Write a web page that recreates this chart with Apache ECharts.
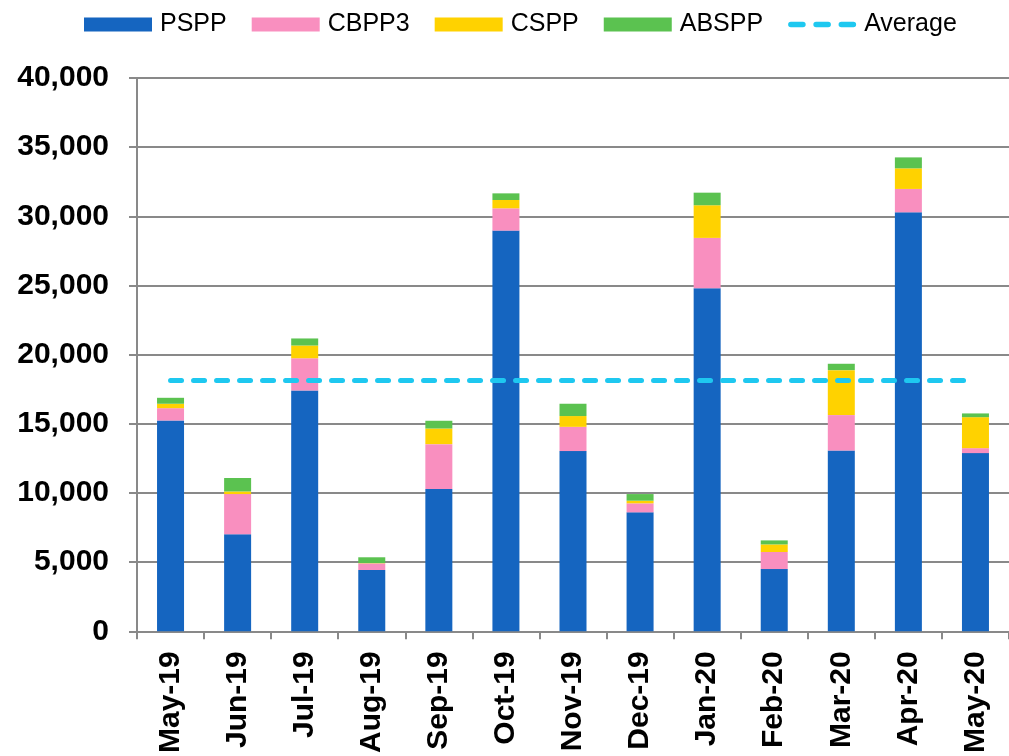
<!DOCTYPE html>
<html>
<head>
<meta charset="utf-8">
<script src="https://cdn.jsdelivr.net/npm/echarts@6/dist/echarts.min.js"></script>
<style>
  html, body { margin: 0; padding: 0; background: #fff; }
  #chart { width: 1009px; height: 756px; }
</style>
</head>
<body>
<div id="chart"></div>
<script>
const months = ['May-19', 'Jun-19', 'Jul-19', 'Aug-19', 'Sep-19', 'Oct-19', 'Nov-19',
  'Dec-19', 'Jan-20', 'Feb-20', 'Mar-20', 'Apr-20', 'May-20']
const pspp = [15240, 7010, 17410, 4430, 10280, 28970, 13030, 8600, 24800, 4500, 13070, 30290, 12880]
const cbpp3 = [890, 2910, 2330, 480, 3250, 1610, 1750, 650, 3640, 1230, 2560, 1690, 360]
const cspp = [320, 190, 920, 20, 1130, 600, 780, 190, 2360, 550, 3250, 1490, 2240]
const abspp = [430, 970, 510, 420, 560, 480, 890, 480, 910, 290, 460, 790, 270]
const average = [18130, 18130, 18130, 18130, 18130, 18130, 18130, 18130, 18130, 18130, 18130, 18130, 18130]

const gray = '#898989'
const font = 'Arial, "Liberation Sans", sans-serif'
const avgColor = '#1ec8f0'

// three rounded dashes for the legend marker of the average line
const dashIcon = 'path://M2.5,0H13.5A2.5,2.5 0 0 1 13.5,5H2.5A2.5,2.5 0 0 1 2.5,0Z' +
  'M25.5,0H36.5A2.5,2.5 0 0 1 36.5,5H25.5A2.5,2.5 0 0 1 25.5,0Z' +
  'M48.5,0H59.5A2.5,2.5 0 0 1 59.5,5H48.5A2.5,2.5 0 0 1 48.5,0Z'

const barSeries = (name, data, color) => ({
  name,
  type: 'bar',
  stack: 'total',
  barWidth: 27,
  data,
  itemStyle: {color},
  emphasis: {disabled: true}
})

const chart = echarts.init(document.getElementById('chart'))
chart.setOption({
  animation: false,
  textStyle: {fontFamily: font, color: '#000'},
  legend: {
    left: 79,
    top: 7,
    itemWidth: 68,
    itemHeight: 14,
    itemGap: 25,
    textStyle: {fontSize: 25, color: '#000', fontFamily: font, padding: [0, 0, 0, 3]},
    data: [
      {name: 'PSPP', icon: 'rect'},
      {name: 'CBPP3', icon: 'rect'},
      {name: 'CSPP', icon: 'rect'},
      {name: 'ABSPP', icon: 'rect'},
      {name: 'Average', icon: dashIcon, itemStyle: {color: avgColor}}
    ]
  },
  grid: {left: 137, right: 0, top: 78, bottom: 124, containLabel: false},
  xAxis: {
    type: 'category',
    data: months,
    axisLine: {lineStyle: {color: gray, width: 2}},
    axisTick: {show: true, length: 8, lineStyle: {color: gray, width: 2}},
    axisLabel: {
      rotate: 90,
      margin: 20,
      interval: 0,
      fontSize: 30,
      fontWeight: 'bold',
      color: '#000',
      fontFamily: font
    }
  },
  yAxis: {
    type: 'value',
    min: 0,
    max: 40000,
    interval: 5000,
    axisLine: {show: true, lineStyle: {color: gray, width: 2}},
    axisTick: {show: true, length: 8, lineStyle: {color: gray, width: 2}},
    splitLine: {lineStyle: {color: gray, width: 2}},
    axisLabel: {
      margin: 28,
      fontSize: 30,
      fontWeight: 'bold',
      color: '#000',
      fontFamily: font,
      formatter: v => v.toLocaleString('en-US')
    }
  },
  series: [
    barSeries('PSPP', pspp, '#1565c0'),
    barSeries('CBPP3', cbpp3, '#f98fbf'),
    barSeries('CSPP', cspp, '#ffd200'),
    barSeries('ABSPP', abspp, '#5bc250'),
    {
      name: 'Average',
      type: 'line',
      data: average,
      symbol: 'none',
      z: 5,
      lineStyle: {color: avgColor, width: 5, type: [11, 12], cap: 'round'},
      itemStyle: {color: avgColor},
      emphasis: {disabled: true}
    }
  ]
})
</script>
</body>
</html>
